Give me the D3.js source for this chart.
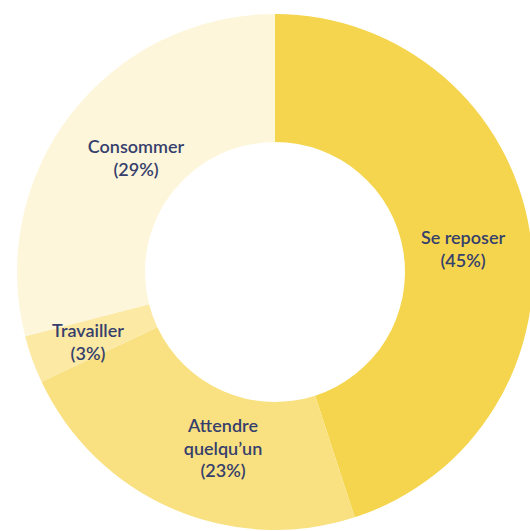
<!DOCTYPE html>
<html><head><meta charset="utf-8">
<script src="https://cdn.jsdelivr.net/npm/d3@7"></script>
<style>html,body{margin:0;padding:0;background:#fff;overflow:hidden}</style>
</head><body><svg id="c" width="530" height="531"></svg>
<script>
const categories = ["Se reposer", "Attendre quelqu\u2019un", "Travailler", "Consommer"];
const values = [45, 23, 3, 29];
const labelLines = [["Se reposer", "(45%)"], ["Attendre", "quelqu\u2019un", "(23%)"], ["Travailler", "(3%)"], ["Consommer", "(29%)"]];
const colors = ["#F5D54D", "#F9E181", "#FBE9A4", "#FEF6DB"];

const cx = 275, cy = 272, rOuter = 258, rInner = 130;
const labelPos = [[463, 244], [223, 432], [88, 337], [136, 153]];
const lineH = 22.5;

const svg = d3.select("#c");
const g = svg.append("g").attr("transform", `translate(${cx},${cy})`);
const pie = d3.pie().sort(null).value(d => d)(values);
const arc = d3.arc().innerRadius(rInner).outerRadius(rOuter);
g.selectAll("path").data(pie).join("path")
  .attr("d", arc).attr("fill", (d, i) => colors[i]);

const lg = svg.append("g");
labelLines.forEach((lines, i) => {
  const t = lg.append("text").attr("text-anchor", "middle")
    .attr("font-family", "Lato, sans-serif").attr("font-size", 18)
    .attr("font-weight", 600).attr("fill", "#363f6c");
  lines.forEach((s, j) => {
    t.append("tspan").attr("x", labelPos[i][0]).attr("y", labelPos[i][1] + j * lineH).text(s);
  });
});
</script></body></html>
